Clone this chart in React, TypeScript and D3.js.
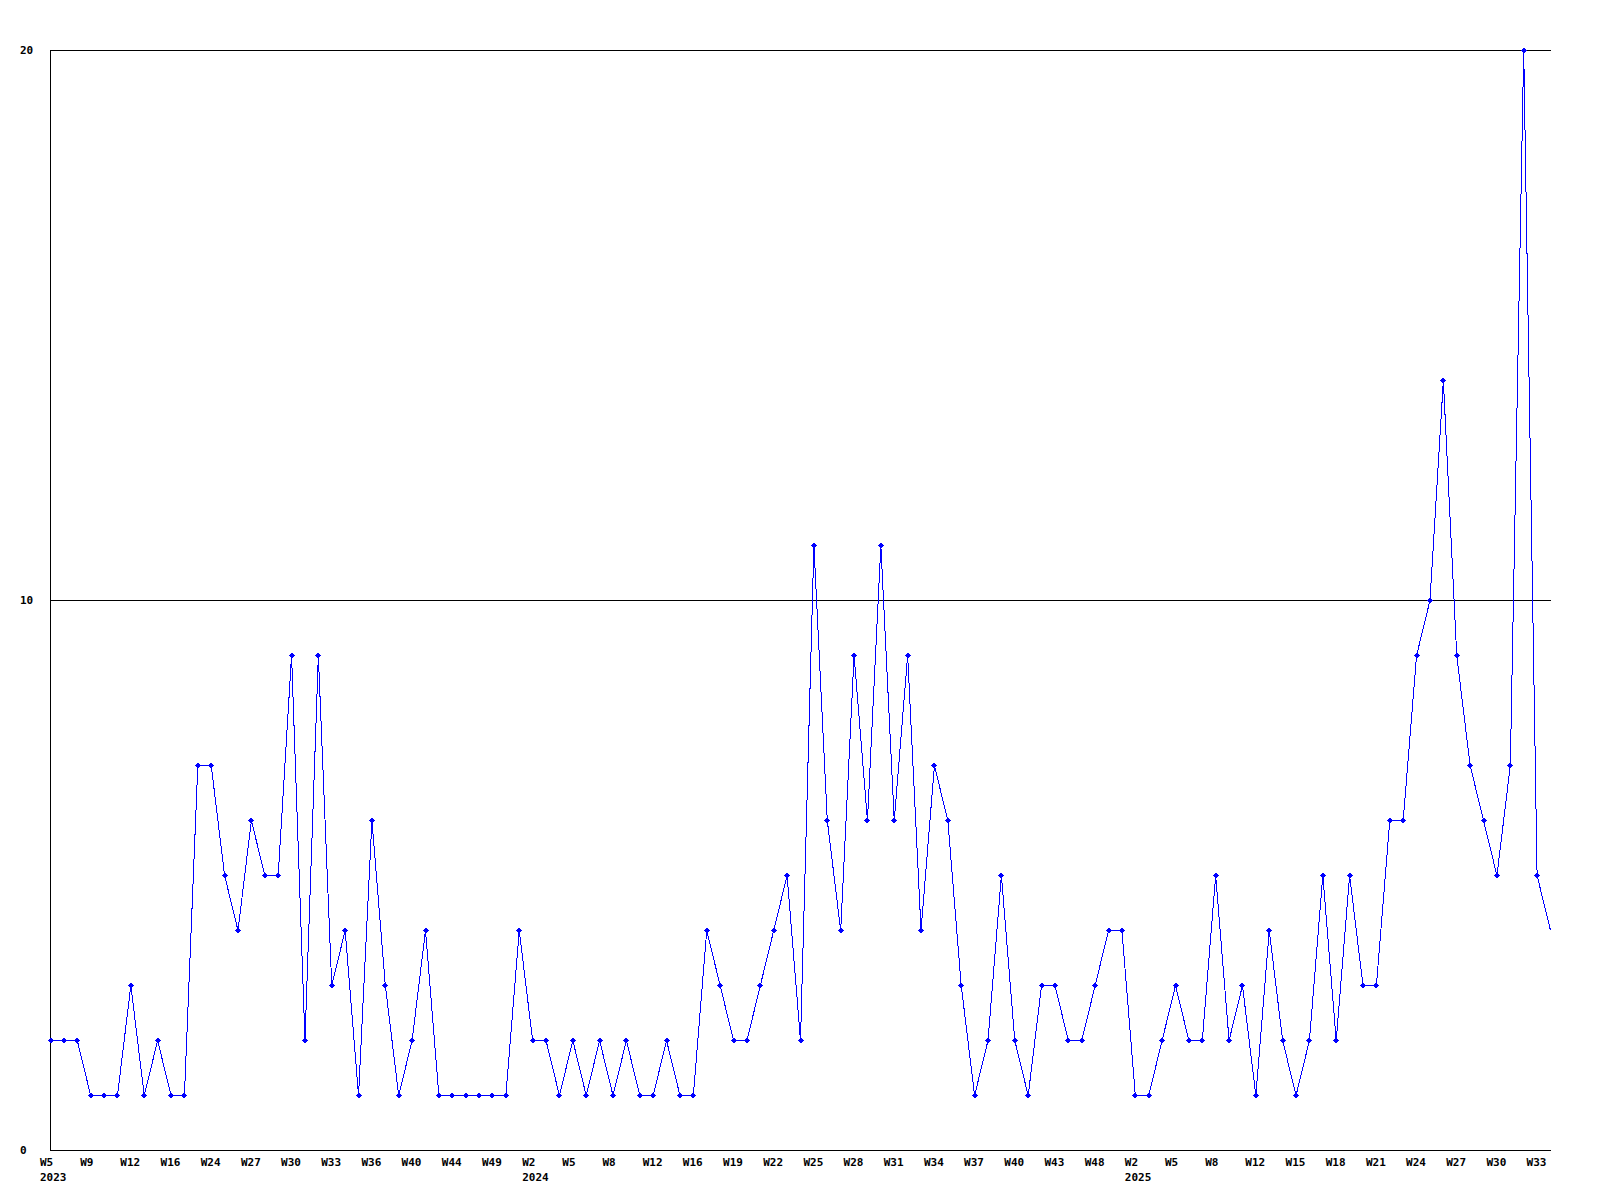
import React from "react";
import * as d3 from "d3";

const values: number[] = [
  2, 2, 2, 1, 1, 1, 3, 1, 2, 1,
  1, 7, 7, 5, 4, 6, 5, 5, 9, 2,
  9, 3, 4, 1, 6, 3, 1, 2, 4, 1,
  1, 1, 1, 1, 1, 4, 2, 2, 1, 2,
  1, 2, 1, 2, 1, 1, 2, 1, 1, 4,
  3, 2, 2, 3, 4, 5, 2, 11, 6, 4,
  9, 6, 11, 6, 9, 4, 7, 6, 3, 1,
  2, 5, 2, 1, 3, 3, 2, 2, 3, 4,
  4, 1, 1, 2, 3, 2, 2, 5, 2, 3,
  1, 4, 2, 1, 2, 5, 2, 5, 3, 3,
  6, 6, 9, 10, 14, 9, 7, 6, 5, 7,
  20, 5, 4,
];

const tickLabels: string[] = [
  "W5", "W9", "W12", "W16", "W24", "W27", "W30", "W33", "W36", "W40", "W44", "W49",
  "W2", "W5", "W8", "W12", "W16", "W19", "W22", "W25", "W28", "W31", "W34", "W37",
  "W40", "W43", "W48",
  "W2", "W5", "W8", "W12", "W15", "W18", "W21", "W24", "W27", "W30", "W33",
];

const yearLabels: { tick: number; year: string }[] = [
  { tick: 0, year: "2023" },
  { tick: 12, year: "2024" },
  { tick: 27, year: "2025" },
];

const yTicks: number[] = [0, 10, 20];
const tickEvery = 3;

const W = 1600;
const H = 1200;
const left = 50;
const right = 1550;
const top = 50;
const bottom = 1150;
const FONT = "'DejaVu Sans Mono', monospace";

export default function App() {
  const idx = values.map((_, i) => i);
  const x = d3.scalePoint<number>().domain(idx).range([left, right]);
  const y = d3.scaleLinear().domain([0, 20]).range([bottom, top]);

  const line = d3
    .line<number>()
    .x((_, i) => x(i)! + 0.5)
    .y((d) => y(d) + 0.5);

  const marker = (cx: number, cy: number, r: number) =>
    `M${cx - r},${cy}L${cx},${cy - r}L${cx + r},${cy}L${cx},${cy + r}Z`;

  return (
    <div style={{ position: "absolute", left: 0, top: 0, width: W, height: H, background: "#fff" }}>
      <svg width={W} height={H} style={{ display: "block" }}>
        <rect x={0} y={0} width={W} height={H} fill="#fff" />
        {yTicks
          .filter((t) => t > 0)
          .map((t) => (
            <line
              key={"g" + t}
              x1={left}
              x2={right + 1}
              y1={Math.round(y(t)) + 0.5}
              y2={Math.round(y(t)) + 0.5}
              stroke="#000"
              strokeWidth={1}
              shapeRendering="crispEdges"
            />
          ))}
        <line x1={left + 0.5} x2={left + 0.5} y1={top} y2={bottom + 1} stroke="#000" shapeRendering="crispEdges" />
        <line x1={left} x2={right + 1} y1={bottom + 0.5} y2={bottom + 0.5} stroke="#000" shapeRendering="crispEdges" />
        {yTicks.map((t) => (
          <text
            key={"y" + t}
            x={20}
            y={y(t) + 4}
            fontFamily={FONT}
            fontWeight="bold"
            fontSize={11}
            fill="#000"
          >
            {t}
          </text>
        ))}
        {tickLabels.map((lab, k) => (
          <text
            key={"x" + k}
            x={x(k * tickEvery)! - 10}
            y={1166}
            fontFamily={FONT}
            fontWeight="bold"
            fontSize={11}
            fill="#000"
          >
            {lab}
          </text>
        ))}
        {yearLabels.map((yl) => (
          <text
            key={"yr" + yl.year}
            x={x(yl.tick * tickEvery)! - 10}
            y={1180.5}
            fontFamily={FONT}
            fontWeight="bold"
            fontSize={11}
            fill="#000"
          >
            {yl.year}
          </text>
        ))}
        <path
          d={line(values) ?? ""}
          fill="none"
          stroke="#0000ff"
          strokeWidth={1}
          shapeRendering="crispEdges"
        />
        {values.slice(0, values.length - 1).map((v, i) => (
          <path
            key={"m" + i}
            d={marker(x(i)! + 0.5, y(v) + 0.5, 3)}
            fill="#0000ff"
            stroke="none"
            shapeRendering="crispEdges"
          />
        ))}
      </svg>
    </div>
  );
}
